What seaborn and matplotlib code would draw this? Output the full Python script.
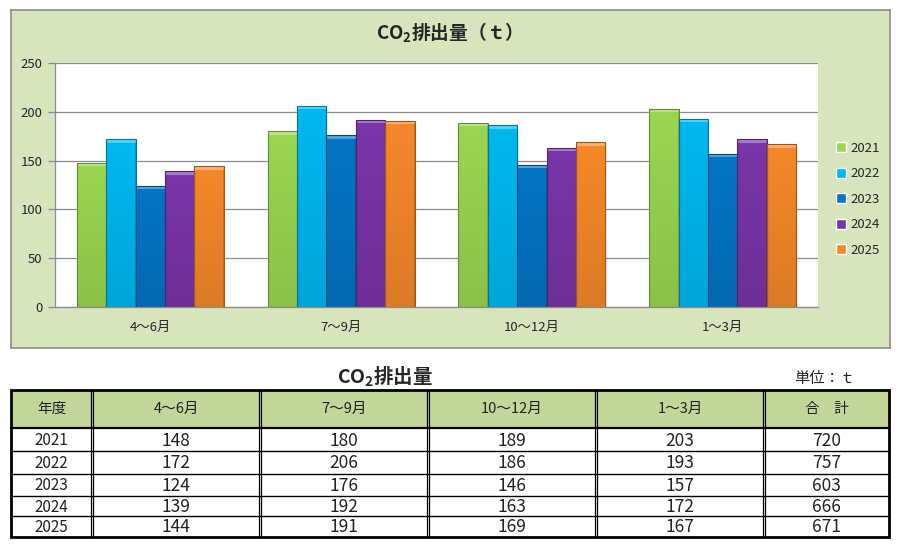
import matplotlib
matplotlib.use("Agg")
import matplotlib.pyplot as plt
from matplotlib.patches import Rectangle
import matplotlib.colors as mcolors
import seaborn as sns
import pandas as pd
import numpy as np

periods = ["4～6月", "7～9月", "10～12月", "1～3月"]
years = ["2021", "2022", "2023", "2024", "2025"]
v2021 = [148, 180, 189, 203]
v2022 = [172, 206, 186, 193]
v2023 = [124, 176, 146, 157]
v2024 = [139, 192, 163, 172]
v2025 = [144, 191, 169, 167]
totals = [720, 757, 603, 666, 671]
yticks = [0, 50, 100, 150, 200, 250]
colors = ["#9BD651", "#00B8F0", "#0474C4", "#7A35A8", "#F5882A"]

series = [v2021, v2022, v2023, v2024, v2025]
rows = []
for y, vals in zip(years, series):
    for p, v in zip(periods, vals):
        rows.append({"period": p, "year": y, "value": v})
df = pd.DataFrame(rows)

sns.set_theme(style="white")
FAM = ["Noto Sans CJK JP", "DejaVu Sans"]
plt.rcParams["font.family"] = FAM
plt.rcParams["mathtext.fontset"] = "custom"
plt.rcParams["mathtext.rm"] = "Noto Sans CJK JP"
plt.rcParams["mathtext.bf"] = "Noto Sans CJK JP:bold"

W, H = 900, 545
fig = plt.figure(figsize=(9, 5.45), dpi=100)
fig.patch.set_facecolor("white")

def fax(x0, y0, x1, y1, **kw):
    return fig.add_axes([x0 / W, 1 - y1 / H, (x1 - x0) / W, (y1 - y0) / H], **kw)

bg = fax(11, 10, 890, 348)
bg.set_facecolor("#D8E4BC")
bg.set_xticks([])
bg.set_yticks([])
for s in bg.spines.values():
    s.set_color("#8C8C8C")
    s.set_linewidth(1.2)
bg.set_zorder(0)

ax = fax(55, 63, 818, 307)
ax.set_zorder(1)
ax.set_facecolor("white")
sns.barplot(data=df, x="period", y="value", hue="year", palette=colors,
            width=0.77, ax=ax, saturation=1, order=periods, hue_order=years)
ax.set_ylim(0, 250)
ax.set_xlim(-0.5, 3.5)

# bevel / gradient shading on each bar
bars = [p for p in ax.patches if p.get_height() > 0]
for p in bars:
    fc = np.array(mcolors.to_rgb(p.get_facecolor()))
    x0, w, h = p.get_x(), p.get_width(), p.get_height()
    ny, nx = max(int(h), 2), 30
    t = np.linspace(0, 1, ny)[:, None, None]
    img = np.ones((ny, nx, 3)) * fc[None, None, :] * (1 - 0.1 * t)
    img[:, :1, :] *= 0.85
    img[:, -1:, :] *= 0.85
    img[:4, :, :] = img[:4, :, :] * 0.65 + 0.35
    img = np.clip(img, 0, 1)
    ax.add_patch(Rectangle((x0 + w, 0), w * 0.05, h * 0.98, facecolor="#000000",
                           alpha=0.07, edgecolor="none", zorder=p.get_zorder() - 0.1))
    im = ax.imshow(img, extent=[x0, x0 + w, 0, h], aspect="auto", origin="upper",
                   zorder=p.get_zorder() + 0.1, interpolation="bilinear")
    im.set_clip_path(p)
    ax.add_patch(Rectangle((x0, 0), w, h, facecolor="none",
                           edgecolor=tuple(fc * 0.65), linewidth=0.8,
                           zorder=p.get_zorder() + 0.2))
ax.set_ylim(0, 250)
ax.set_xlim(-0.5, 3.5)
ax.set_aspect("auto")

ax.set_yticks(yticks)
ax.set_yticklabels([str(t) for t in yticks], fontsize=9.5, family=FAM)
ax.yaxis.grid(True, color="#8C8C8C", linewidth=0.9)
ax.set_axisbelow(True)
ax.set_xlabel("")
ax.set_ylabel("")
ax.set_xticks(range(4))
ax.set_xticklabels(periods, fontsize=9.5, family=FAM)
ax.set_xticks([-0.5, 0.5, 1.5, 2.5, 3.5], minor=True)
ax.tick_params(axis="x", which="major", length=0, pad=10)
ax.tick_params(axis="x", which="minor", length=5, color="#8C8C8C", width=0.9, direction="out")
ax.tick_params(axis="y", length=5, color="#8C8C8C", width=0.9, direction="out", left=True, pad=4)
for s in ["top", "right"]:
    ax.spines[s].set_visible(False)
for s in ["left", "bottom"]:
    ax.spines[s].set_color("#8C8C8C")
    ax.spines[s].set_linewidth(0.9)

handles, labels = ax.get_legend_handles_labels()
ax.legend(handles, labels, loc="upper left", bbox_to_anchor=(824 / W, 1 - 130 / H),
          bbox_transform=fig.transFigure, frameon=False, fontsize=9.5,
          handlelength=0.8, handleheight=0.8, handletextpad=0.3, labelspacing=0.95)

fig.text(445 / W, 1 - 33 / H, r"CO$_\mathbf{2}$排出量（ｔ）", ha="center", va="center",
         fontsize=13.5, fontweight="bold", family=FAM)

# table
fig.text(385 / W, 1 - 377 / H, r"CO$_\mathbf{2}$排出量", ha="center", va="center",
         fontsize=14, fontweight="bold", family=FAM)
fig.text(825 / W, 1 - 379 / H, "単位：ｔ", ha="center", va="center",
         fontsize=11, family=FAM)

tax = fig.add_axes([0, 0, 1, 1])
tax.set_xlim(0, W)
tax.set_ylim(H, 0)
tax.axis("off")

cols = [11, 92, 260, 428, 596, 764, 889]
rys = [390, 428, 451, 474, 496, 516, 537]
tax.add_patch(Rectangle((cols[0], rys[0]), cols[-1] - cols[0], rys[1] - rys[0],
                        facecolor="#C4D79B", edgecolor="none"))
for y in rys[1:-1]:
    tax.plot([cols[0], cols[-1]], [y, y], color="black", lw=1.0 if y != rys[1] else 1.6)
tax.add_patch(Rectangle((cols[0], rys[0]), cols[-1] - cols[0], rys[-1] - rys[0],
                        facecolor="none", edgecolor="black", lw=2.0))
for x in cols[1:-1]:
    tax.plot([x - 1.3, x - 1.3], [rys[0], rys[-1]], color="black", lw=0.9)
    tax.plot([x + 1.3, x + 1.3], [rys[0], rys[-1]], color="black", lw=0.9)

headers = ["年度"] + periods + ["合　計"]
for i, h in enumerate(headers):
    tax.text((cols[i] + cols[i + 1]) / 2, (rys[0] + rys[1]) / 2, h, ha="center",
             va="center", fontsize=10.5, family=FAM, color="#222222")
for r, (y, vals) in enumerate(zip(years, series)):
    cy = (rys[r + 1] + rys[r + 2]) / 2 + 1
    cells = [y] + [str(v) for v in vals] + [str(totals[r])]
    for i, c in enumerate(cells):
        tax.text((cols[i] + cols[i + 1]) / 2, cy, c, ha="center", va="center",
                 fontsize=11 if i == 0 else 12.5, family=FAM, color="#222222")

fig.savefig("out.png", dpi=100)
